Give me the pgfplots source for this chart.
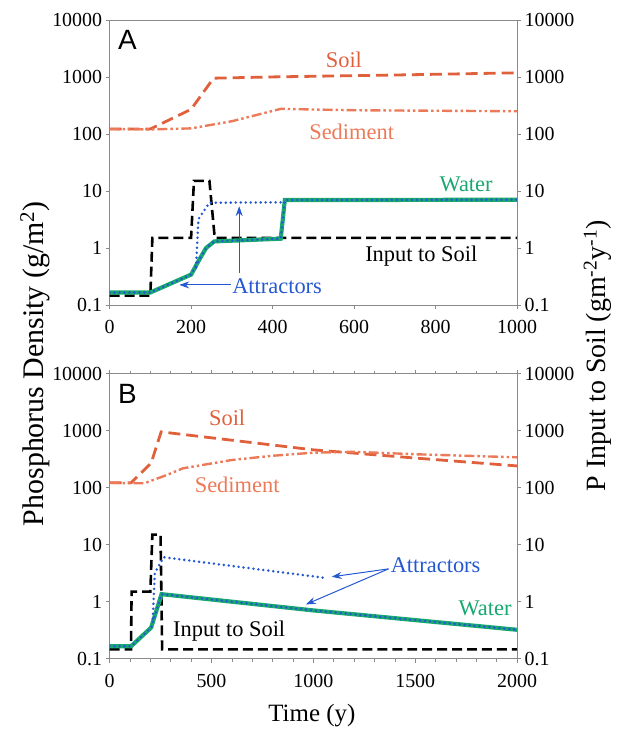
\documentclass[border=0pt]{standalone}
\usepackage{fontspec}
\setmainfont{Liberation Serif}
\newfontfamily\arialfont{Liberation Sans}
\usepackage{pgfplots}
\pgfplotsset{compat=1.18}
\usetikzlibrary{arrows.meta}

\definecolor{soilc}{HTML}{E0603C}
\definecolor{sedc}{HTML}{EC7A58}
\definecolor{waterc}{HTML}{18A870}
\definecolor{attrc}{HTML}{2458D0}
\definecolor{axisc}{HTML}{8A8A8A}

\pgfplotsset{
  mypanel/.style={
    scale only axis, width=409pt, height=286pt,
    ymin=0.1, ymax=10000,
    ytick={0.1,1,10,100,1000,10000},
    yticklabels={0.1,1,10,100,1000,10000},
    tick label style={font=\fontsize{20}{22}\selectfont},
    xticklabel style={yshift=-8pt},
    axis line style={axisc, line width=0.7pt},
    major tick style={axisc, line width=0.7pt},
    minor x tick style={axisc, line width=0.6pt},
    minor y tick style={draw=none},
    tick align=outside,
    major tick length=4pt, minor tick length=3pt,
  },
}
\tikzset{
  lbl/.style={font=\fontsize{22.5}{24}\selectfont},
  soilline/.style={soilc, line width=2.8pt, dash pattern=on 12pt off 6pt},
  sedline/.style={sedc, line width=2.4pt, dash pattern=on 10pt off 3pt on 2.5pt off 3pt on 2.5pt off 3pt},
  inpline/.style={black, line width=2.6pt, dash pattern=on 10pt off 5pt},
  watline/.style={waterc, line width=4.2pt},
  attline/.style={attrc, line width=2.8pt, line cap=round, dash pattern=on 0pt off 5pt},
  arr/.style={attrc, line width=1pt, -{Stealth[length=10pt,width=7pt]}},
}

\begin{document}
\begin{tikzpicture}
% ---------- panel A ----------
\begin{axis}[ymode=log, mypanel, name=A, at={(0,0)}, anchor=north west,
    xmin=0, xmax=1000, xtick={0,200,...,1000},
    xticklabels={0,200,400,600,800,1000},
    xtick pos=bottom, ytick pos=left]
\addplot[soilline, mark=none] coordinates {(0,122) (100,122) (200,270) (255,950) (400,1000) (700,1080) (1000,1180)};
\addplot[sedline, mark=none] coordinates {(0,122) (100,120) (200,125) (300,167) (420,275) (600,260) (1000,250)};
\addplot[inpline, mark=none] coordinates {(0,0.145) (100,0.145) (105,1.5) (200,1.5) (207,15) (245,15) (258,1.5) (1000,1.5)};
\addplot[watline, mark=none] coordinates {(0,0.165) (100,0.165) (200,0.34) (220,0.62) (237,1.0) (257,1.3) (420,1.45) (430,6.9) (1000,7.0)};
\addplot[attline, mark=none] coordinates {(0,0.165) (100,0.165) (200,0.34) (220,0.62) (237,1.0) (257,1.3) (420,1.45) (430,6.9) (1000,7.0)};
\addplot[attline, mark=none] coordinates {(212,0.45) (218,3.2) (245,6.2) (430,6.3)};
\node[anchor=center, font=\arialfont\fontsize{28}{30}\selectfont] at (rel axis cs:0.044,0.93) {A};
\node[lbl, text=soilc] at (axis cs:575,2000) {Soil};
\node[lbl, text=sedc] at (axis cs:594,110) {Sediment};
\node[lbl, text=waterc] at (axis cs:875,13) {Water};
\node[lbl] at (axis cs:765,0.72) {Input to Soil};
\node[lbl, text=attrc] at (axis cs:411,0.215) {Attractors};
\draw[arr] (axis cs:298,0.224) -- (axis cs:171,0.224);
\draw[arr] (axis cs:318,0.36) -- (axis cs:318,5.4);
\end{axis}
\begin{axis}[ymode=log, mypanel, at={(0,0)}, anchor=north west,
    xmin=0, xmax=1000, axis x line=none, axis y line*=right]
\addplot[draw=none, mark=none] coordinates {(0,1) (1000,1)};
\end{axis}
% ---------- panel B ----------
\begin{axis}[ymode=log, mypanel, name=B, at={(0,-355pt)}, anchor=north west,
    xmin=0, xmax=2000, xtick={0,500,...,2000},
    xticklabels={0,500,1000,1500,2000},
    minor x tick num=4, xtick pos=both, ytick pos=left]
\addplot[soilline, mark=none] coordinates {(0,122) (106,122) (204,270) (253,950) (1000,460) (1500,330) (2000,240)};
\addplot[sedline, mark=none] coordinates {(0,122) (100,119) (170,119) (280,166) (360,218) (600,305) (800,362) (1000,410) (1200,425) (1500,385) (2000,340)};
\addplot[inpline, mark=none] coordinates {(0,0.145) (105,0.145) (108,1.5) (200,1.5) (210,15) (250,15) (258,0.145) (2000,0.145)};
\addplot[watline, mark=none] coordinates {(0,0.165) (106,0.165) (204,0.35) (255,1.35) (1000,0.7) (2000,0.32)};
\addplot[attline, mark=none] coordinates {(0,0.165) (106,0.165) (204,0.35) (255,1.35) (1000,0.7) (2000,0.32)};
\addplot[attline, mark=none] coordinates {(212,0.5) (222,3.2) (265,6.0) (1060,2.6)};
\node[anchor=center, font=\arialfont\fontsize{28}{30}\selectfont] at (rel axis cs:0.044,0.93) {B};
\node[lbl, text=soilc] at (axis cs:577,1660) {Soil};
\node[lbl, text=sedc] at (axis cs:626,112) {Sediment};
\node[lbl, text=attrc] at (axis cs:1600,4.4) {Attractors};
\node[lbl, text=waterc] at (axis cs:1843,0.76) {Water};
\node[lbl] at (axis cs:587,0.30) {Input to Soil};
\draw[arr] (axis cs:1369,3.75) -- (axis cs:1090,2.72);
\draw[arr] (axis cs:1369,3.75) -- (axis cs:963,0.89);
\end{axis}
\begin{axis}[ymode=log, mypanel, at={(0,-355pt)}, anchor=north west,
    xmin=0, xmax=2000, axis x line=none, axis y line*=right]
\addplot[draw=none, mark=none] coordinates {(0,1) (2000,1)};
\end{axis}
% ---------- shared labels ----------
\node[rotate=90, font=\fontsize{30}{32}\selectfont] at (-75pt,-345pt) {Phosphorus Density (g/m\textsuperscript{2})};
\node[rotate=90, font=\fontsize{28}{30}\selectfont] at (490pt,-337pt) {P Input to Soil (gm\textsuperscript{-2}y\textsuperscript{-1})};
\node[font=\fontsize{25}{27}\selectfont] at (203pt,-698pt) {Time (y)};
\path (-110pt,20pt) rectangle (518pt,-710pt);
\end{tikzpicture}
\end{document}
